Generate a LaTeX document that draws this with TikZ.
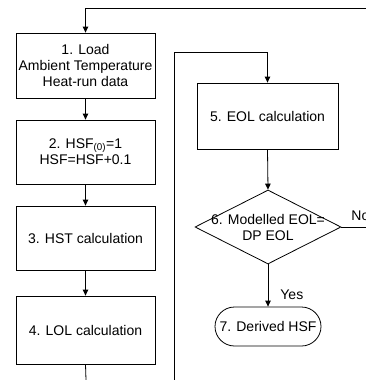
\documentclass[tikz,border=0pt]{standalone}
\usepackage{fontspec}
\setmainfont{Liberation Sans}
\usetikzlibrary{arrows.meta,shapes.geometric,shapes.misc}
\begin{document}
\begin{tikzpicture}[x=1pt,y=-1pt,
  font=\fontsize{14}{16}\selectfont,
  line width=0.8pt,
  stepbox/.style={draw, minimum width=139pt, minimum height=65pt, align=center, inner sep=0pt},
  arr/.style={-{Triangle[length=6pt,width=5.5pt]}}]
\useasboundingbox (0,0) rectangle (366,380);
\node[stepbox] (b1) at (85.5,65.5) {1. Load\\Ambient Temperature\\Heat-run data};
\node[stepbox, minimum height=64pt] (b2) at (85.5,152) {2. HSF\textsubscript{(0)}=1\\HSF=HSF+0.1};
\node[stepbox, minimum height=64pt] (b3) at (85.5,238) {3. HST calculation};
\node[stepbox, minimum height=68pt] (b4) at (85.5,330) {4. LOL calculation};
\node[stepbox, minimum width=141pt, minimum height=66pt] (b5) at (267.5,116) {5. EOL calculation};
\node[draw, diamond, minimum width=146pt, minimum height=74pt, inner sep=0pt] (d) at (268,227) {};
\node[align=center, inner sep=0pt] (dt) at (268,227) {6. Modelled EOL=\\DP EOL};
\node[draw, rounded rectangle, minimum width=106pt, minimum height=39pt, inner sep=0pt] (t) at (268,326.5) {7. Derived HSF};
\coordinate (tr) at (366,8);
\coordinate (bot) at (86,380);
\coordinate (lb) at (174,380);
\coordinate (lt) at (174,52);
\coordinate (rr) at (366,227);
\draw[arr] (tr) -| (b1.north);
\draw[arr] (b1.south) -- (b2.north);
\draw[arr] (b2.south) -- (b3.north);
\draw[arr] (b3.south) -- (b4.north);
\draw (b4.south) -- (bot);
\draw[arr] (lb) -- (lt) -| (b5.north);
\draw[arr] (b5.south) -- (d.north);
\draw (d.east) -- (rr);
\node[anchor=west, inner sep=0pt] (no) at (351,216) {No};
\draw[arr] (d.south) -- (t.north);
\node[anchor=west, inner sep=0pt] (yes) at (280,295) {Yes};
\end{tikzpicture}
\end{document}
